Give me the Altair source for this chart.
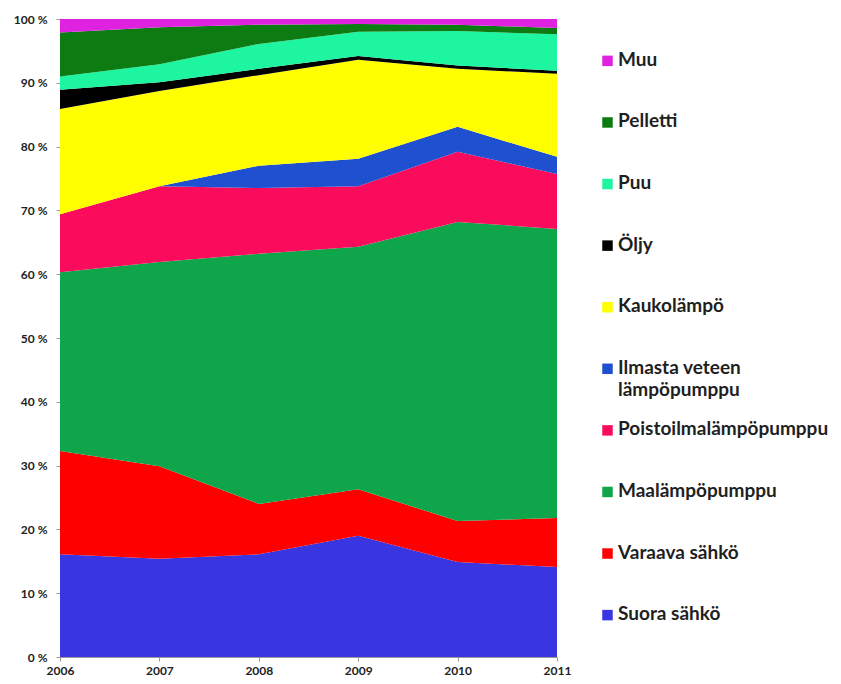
import altair as alt
import pandas as pd

years = [2006, 2007, 2008, 2009, 2010, 2011]

series = ["Suora sähkö", "Varaava sähkö", "Maalämpöpumppu", "Poistoilmalämpöpumppu",
          "Ilmasta veteen lämpöpumppu", "Kaukolämpö", "Öljy", "Puu", "Pelletti", "Muu"]

suora = [16.1, 15.4, 16.1, 19.0, 14.9, 14.1]
varaava = [16.2, 14.5, 7.9, 7.3, 6.4, 7.7]
maalampo = [28.0, 32.0, 39.2, 38.0, 46.9, 45.3]
poistoilma = [9.1, 11.9, 10.3, 9.5, 11.0, 8.6]
ilmavesi = [0.0, 0.0, 3.5, 4.3, 3.9, 2.7]
kauko = [16.5, 14.9, 14.2, 15.5, 9.1, 13.0]
oljy = [3.0, 1.4, 1.0, 0.6, 0.5, 0.5]
puu = [2.1, 2.8, 3.9, 3.8, 5.4, 5.7]
pelletti = [6.9, 5.8, 3.0, 1.2, 1.0, 1.0]
muu = [2.1, 1.3, 0.9, 0.8, 0.9, 1.4]

values = [suora, varaava, maalampo, poistoilma, ilmavesi, kauko, oljy, puu, pelletti, muu]

colors = ["#3935E0", "#FE0000", "#0FA64B", "#FA0B5B", "#1E50D0",
          "#FFFF00", "#000000", "#1EF5A0", "#0C7C12", "#DF22DF"]

legend_labels = {"Ilmasta veteen lämpöpumppu": "Ilmasta veteen\nlämpöpumppu"}

y_ticks = list(range(0, 101, 10))

rows = []
for i, (name, vals) in enumerate(zip(series, values)):
    for yr, v in zip(years, vals):
        rows.append({"year": yr, "name": name, "value": v, "idx": i})
df = pd.DataFrame(rows)

color_scale = alt.Scale(domain=series, range=colors)

area = alt.Chart(df).mark_area(interpolate="linear").encode(
    x=alt.X("year:Q",
            scale=alt.Scale(domain=[years[0], years[-1]], nice=False, zero=False),
            axis=alt.Axis(values=years, format="d", title=None, labelFlush=False,
                          grid=False, tickSize=4, labelPadding=4, domainColor="#999999",
                          tickColor="#999999", labelFont="Lato", labelFontSize=12,
                          labelFontWeight="bold", labelColor="#222222")),
    y=alt.Y("value:Q", stack="zero",
            scale=alt.Scale(domain=[0, 100], nice=False),
            axis=alt.Axis(values=y_ticks, labelExpr="datum.value + ' %'", title=None,
                          grid=False, tickSize=4, labelPadding=9, domainColor="#999999",
                          tickColor="#999999", labelFont="Lato", labelFontSize=12,
                          labelFontWeight="bold", labelColor="#222222")),
    color=alt.Color("name:N", scale=color_scale, legend=None),
    order=alt.Order("idx:Q", sort="ascending"),
).properties(width=497, height=638)

legend_order = list(reversed(series))
leg_df = pd.DataFrame({
    "name": legend_order,
    "label": [legend_labels.get(n, n) for n in legend_order],
})

leg_base = alt.Chart(leg_df).encode(
    y=alt.Y("name:N", sort=legend_order,
            scale=alt.Scale(type="point", padding=0.68), axis=None)
)
squares = leg_base.mark_square(size=110, opacity=1).encode(
    x=alt.value(5.5),
    color=alt.Color("name:N", scale=color_scale, legend=None),
)
texts = leg_base.mark_text(align="left", baseline="top", dy=-10, fontSize=19,
                           font="Lato", fontWeight="bold", lineBreak="\n", lineHeight=22,
                           color="#1f1f1f").encode(
    x=alt.value(16),
    text="label:N",
)
legend = alt.layer(squares, texts).properties(width=200, height=638)

chart = alt.hconcat(area, legend, spacing=31).properties(
    padding={"left": 5, "top": 5, "right": 0, "bottom": 0}
).configure_view(stroke=None)

chart.save("out.html", embed_options={"renderer": "svg", "actions": False})
